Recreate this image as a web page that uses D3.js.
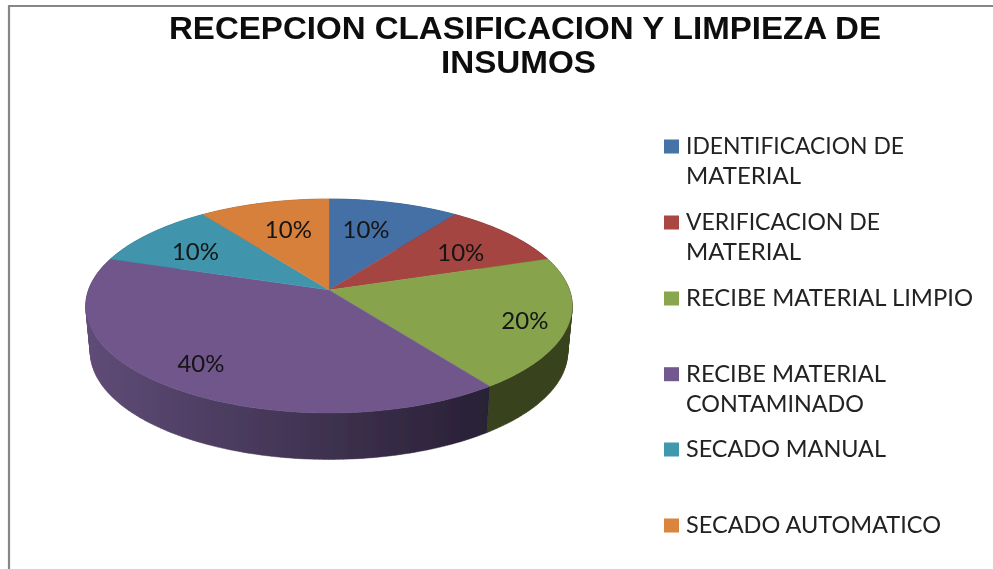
<!DOCTYPE html>
<html><head><meta charset="utf-8">
<style>html,body{margin:0;padding:0;background:#fff}svg{display:block}</style>
<script src="https://cdn.jsdelivr.net/npm/d3@7"></script></head>
<body><svg id="c" width="993" height="569"></svg>
<script>
const titleLines = ["RECEPCION CLASIFICACION Y LIMPIEZA DE", "INSUMOS"];
const categories = ["IDENTIFICACION DE|MATERIAL", "VERIFICACION DE|MATERIAL", "RECIBE MATERIAL LIMPIO", "RECIBE MATERIAL|CONTAMINADO", "SECADO MANUAL", "SECADO AUTOMATICO"];
const values = [10, 10, 20, 40, 10, 10];
const topColors = ["#4470a5", "#a54442", "#87a34c", "#70568b", "#4095ad", "#d7803b"];
const legendColors = ["#4572a7", "#aa4643", "#89a54e", "#71588f", "#4198af", "#db843d"];
const sideStart = ["#2f4d72", "#6e2d2b", "#38431c", "#5f4b76", "#2b6475", "#8f5527"];
const sideEnd = ["#2f4d72", "#6e2d2b", "#38431c", "#282035", "#2b6475", "#8f5527"];
const legendBaselines = [154, 230, 306, 381.7, 457, 533];
const legendWidths = [[218, 115], [194, 115], [287], [200, 178], [200], [255]];
const labelNudge = [-3, 3, 2, 1, -3, 1.5];
const labelRadius = [0.65, 0.69, 0.83, 0.80, 0.70, 0.65];

const svg = d3.select("#c");
const defs = svg.append("defs");
const blur = defs.append("filter").attr("id", "soft").attr("x", "-2%").attr("y", "-2%").attr("width", "104%").attr("height", "104%");
blur.append("feGaussianBlur").attr("stdDeviation", 0.45);
const root = svg.append("g").attr("filter", "url(#soft)");

// frame
const frame = { x: 9, y: 6, r: 993, b: 569 };
root.append("path")
  .attr("d", d3.line()([[frame.x, frame.b], [frame.x, frame.y], [frame.r, frame.y]]))
  .attr("fill", "none").attr("stroke", "#868686").attr("stroke-width", 2.2);

// title
const titleLayout = [{ x: 525, w: 712 }, { x: 518.5, w: 155 }];
root.append("g").selectAll("text").data(titleLines).join("text")
  .attr("x", (d, i) => titleLayout[i].x).attr("y", (d, i) => 38.5 + i * 34)
  .attr("text-anchor", "middle")
  .attr("textLength", (d, i) => titleLayout[i].w).attr("lengthAdjust", "spacingAndGlyphs")
  .attr("font-family", "'Liberation Sans', Arial, sans-serif")
  .attr("font-weight", 700).attr("font-size", 31).attr("fill", "#0a0a0a")
  .text(d => d);

// perspective pie: a point of the circular plate projected to the screen
const cx = 329;
function project(plate, angle, r) {
  const u = Math.sin(angle) * r, v = -Math.cos(angle) * r;
  const den = 1 + plate.p * v;
  return [cx + plate.k * u / den, plate.y + plate.a * v / den];
}
const topPlate = { k: 240.5, a: 104.6, p: -0.1495, y: 290 };
const botPlate = { k: 236, a: 105, p: -0.1495, y: 336 };

const arcs = d3.pie().sort(null).value(d => d)(values);
const TAU = Math.PI * 2;
const stepsFor = a => Math.max(2, Math.ceil((a.endAngle - a.startAngle) / TAU * 360));
const rim = (plate, a) => d3.range(stepsFor(a) + 1).map(i =>
  project(plate, a.startAngle + (a.endAngle - a.startAngle) * i / stepsFor(a), 1));

// side wall: one path per slice, made of one-degree quads, all wound the same way
// so that the overlaps at the silhouette stay filled; shaded left to right
arcs.forEach((a, i) => {
  const g = defs.append("linearGradient").attr("id", "side" + i)
    .attr("gradientUnits", "userSpaceOnUse")
    .attr("x1", 90).attr("x2", 490).attr("y1", 0).attr("y2", 0);
  g.append("stop").attr("offset", "0%").attr("stop-color", sideStart[i]);
  g.append("stop").attr("offset", "100%").attr("stop-color", sideEnd[i]);
});
root.append("g").selectAll("path").data(arcs).join("path")
  .attr("d", a => {
    const T = rim(topPlate, a), B = rim(botPlate, a);
    return d3.range(T.length - 1).map(k => {
      const q = [T[k], T[k + 1], B[k + 1], B[k]];
      if (d3.polygonArea(q) < 0) q.reverse();
      return d3.line()(q) + "Z";
    }).join("");
  })
  .attr("fill", (a, i) => `url(#side${i})`)
  .attr("stroke", (a, i) => `url(#side${i})`)
  .attr("stroke-width", 0.5)
  .attr("fill-rule", "nonzero");

// top face
root.append("g").selectAll("path").data(arcs).join("path")
  .attr("d", a => d3.line()([project(topPlate, 0, 0), ...rim(topPlate, a)]) + "Z")
  .attr("fill", (a, i) => topColors[i])
  .attr("stroke", (a, i) => topColors[i]).attr("stroke-width", 0.4);

// value labels
const total = d3.sum(values);
root.append("g").selectAll("text").data(arcs).join("text")
  .each(function (a, i) {
    const mid = (a.startAngle + a.endAngle) / 2 + labelNudge[i] * Math.PI / 180;
    const p = project(topPlate, mid, labelRadius[i]);
    d3.select(this).attr("x", p[0]).attr("y", p[1] + 8);
  })
  .attr("text-anchor", "middle")
  .attr("textLength", 47).attr("lengthAdjust", "spacingAndGlyphs")
  .attr("font-family", "Lato, 'Open Sans', sans-serif")
  .attr("font-size", 23).attr("fill", "#141414")
  .text(a => d3.format(".0%")(a.value / total));

// legend
const legend = root.append("g").selectAll("g").data(categories).join("g");
legend.append("rect")
  .attr("x", 664).attr("y", (d, i) => legendBaselines[i] - 14.5)
  .attr("width", 15).attr("height", 14)
  .attr("fill", (d, i) => legendColors[i]);
legend.each(function (d, i) {
  d3.select(this).selectAll("text").data(d.split("|")).join("text")
    .attr("x", 686).attr("y", (s, j) => legendBaselines[i] + j * 30)
    .attr("textLength", (s, j) => legendWidths[i][j]).attr("lengthAdjust", "spacingAndGlyphs")
    .attr("font-family", "Lato, 'Open Sans', sans-serif")
    .attr("font-size", 23).attr("fill", "#222")
    .text(s => s);
});
</script></body></html>
